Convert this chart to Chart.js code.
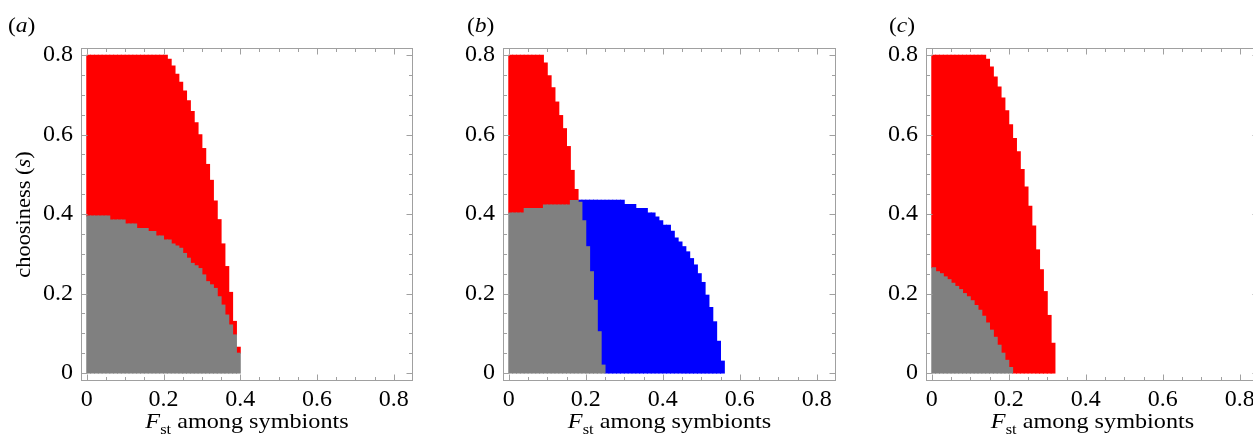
<!DOCTYPE html>
<html>
<head>
<meta charset="utf-8">
<script src="https://cdn.jsdelivr.net/npm/chart.js@4.4.0/dist/chart.umd.min.js"></script>
<style>
html,body{margin:0;padding:0;background:#fff;overflow:hidden;width:1253px;height:436px;position:relative;}
canvas{position:absolute;top:0;}
</style>
</head>
<body>
<canvas id="ca" width="420" height="436" style="left:0px"></canvas>
<canvas id="cb" width="420" height="436" style="left:420px"></canvas>
<canvas id="cc" width="420" height="436" style="left:840px"></canvas>
<script>
// ---- data (column centres of the F_st grid) ----
const colX = [0.005,0.015,0.025,0.035,0.045,0.055,0.065,0.075,0.085,0.095,
  0.105,0.115,0.125,0.135,0.145,0.155,0.165,0.175,0.185,0.195,
  0.205,0.215,0.225,0.235,0.245,0.255,0.265,0.275,0.285,0.295,
  0.305,0.315,0.325,0.335,0.345,0.355,0.365,0.375,0.385,0.395,
  0.405,0.415,0.425,0.435,0.445,0.455,0.465,0.475,0.485,0.495,
  0.505,0.515,0.525,0.535,0.545,0.555];

// panel (a)
const grayA = [0.395,0.395,0.395,0.395,0.395,0.395,0.385,0.385,0.385,0.385,
  0.375,0.375,0.375,0.364,0.364,0.364,0.356,0.356,0.345,0.345,
  0.335,0.335,0.325,0.320,0.314,0.301,0.289,0.276,0.270,0.263,
  0.247,0.230,0.222,0.213,0.192,0.171,0.146,0.121,0.096,0.050];
const redTopA = [0.8,0.8,0.8,0.8,0.8,0.8,0.8,0.8,0.8,0.8,
  0.8,0.8,0.8,0.8,0.8,0.8,0.8,0.8,0.8,0.8,
  0.8,0.79,0.773,0.752,0.732,0.710,0.685,0.658,0.630,0.600,
  0.565,0.525,0.485,0.433,0.386,0.325,0.268,0.203,0.130,0.065];

// panel (b)
const grayB = [0.403,0.403,0.403,0.403,0.414,0.414,0.414,0.414,0.414,0.423,
  0.423,0.423,0.423,0.423,0.423,0.423,0.434,0.434,0.430,0.383,
  0.318,0.255,0.183,0.104,0.020];
const redTopB = [0.8,0.8,0.8,0.8,0.8,0.8,0.8,0.8,0.8,0.78,
  0.748,0.718,0.682,0.648,0.615,0.570,0.510,0.462];
const blueTopB = [null,null,null,null,null,null,null,null,null,null,
  null,null,null,null,null,null,null,null,0.435,0.435,
  0.435,0.435,0.435,0.435,0.435,0.435,0.435,0.435,0.435,0.435,
  0.424,0.424,0.424,0.414,0.414,0.414,0.403,0.403,0.393,0.383,
  0.372,0.372,0.357,0.340,0.330,0.318,0.305,0.288,0.272,0.250,
  0.228,0.196,0.165,0.129,0.080,0.030];

// panel (c)
const grayC = [0.265,0.255,0.250,0.242,0.235,0.226,0.218,0.210,0.200,0.192,
  0.182,0.170,0.158,0.143,0.126,0.108,0.090,0.070,0.050,0.032,0.014];
const redTopC = [0.8,0.8,0.8,0.8,0.8,0.8,0.8,0.8,0.8,0.8,
  0.8,0.8,0.8,0.8,0.79,0.77,0.745,0.72,0.692,0.66,
  0.625,0.59,0.557,0.512,0.468,0.42,0.37,0.31,0.26,0.205,
  0.145,0.075];

// ticks
const majorTicks = [0,0.2,0.4,0.6,0.8];
const minorTicksX = [0,0.05,0.1,0.15,0.2,0.25,0.3,0.35,0.4,0.45,0.5,0.55,0.6,0.65,0.7,0.75,0.8,0.85];
const minorTicksY = [0,0.05,0.1,0.15,0.2,0.25,0.3,0.35,0.4,0.45,0.5,0.55,0.6,0.65,0.7,0.75,0.8];
const panelLetters = ['a','b','c'];

// ---- helpers ----
const SERIF = '"Liberation Serif","Times New Roman",serif';
const RED = '#ff0000', GRAY = '#808080', BLUE = '#0000ff';

function bars(tops, bottoms) {
  const out = [];
  tops.forEach((t, i) => {
    if (t == null) return;
    const b = bottoms && bottoms[i] != null ? bottoms[i] : 0;
    out.push({x: colX[i], y: [b, t]});
  });
  return out;
}
function ds(data, color) {
  return {data, backgroundColor: color, borderWidth: 0, grouped: false,
          barPercentage: 1, categoryPercentage: 1, inflateAmount: 0.5};
}
function rich(ctx, parts, x, y, align, sx) {
  let w = 0;
  parts.forEach(p => { ctx.font = p.font; p.w = ctx.measureText(p.t).width; w += p.w; });
  ctx.save();
  ctx.translate(x, y);
  ctx.scale(sx || 1, 1);
  let cx = align === 'center' ? -w / 2 : 0;
  parts.forEach(p => { ctx.font = p.font; ctx.fillText(p.t, cx, (p.dy || 0)); cx += p.w; });
  ctx.restore();
}

const framePlugin = {
  id: 'frame',
  afterDraw(chart, args, opts) {
    const {ctx, chartArea: a} = chart;
    const xs = chart.scales.x, ys = chart.scales.y;
    ctx.save();
    ctx.strokeStyle = '#a0a0a0';
    ctx.lineWidth = 1;
    const L = Math.round(a.left) + 0.5, R = Math.round(a.right) - 0.5;
    const T = Math.round(a.top) + 0.5, B = Math.round(a.bottom) - 0.5;
    ctx.strokeRect(L, T, R - L, B - T);
    ctx.beginPath();
    minorTicksX.forEach(v => {
      const px = Math.round(xs.getPixelForValue(v)) + 0.5;
      if (px <= L || px >= R) return;
      const len = majorTicks.includes(v) ? 6 : 3.5;
      ctx.moveTo(px, B); ctx.lineTo(px, B - len);
      ctx.moveTo(px, T); ctx.lineTo(px, T + len);
    });
    minorTicksY.forEach(v => {
      const py = Math.round(ys.getPixelForValue(v)) + 0.5;
      if (py <= T || py >= B) return;
      const len = majorTicks.includes(v) ? 6 : 3.5;
      ctx.moveTo(L, py); ctx.lineTo(L + len, py);
      ctx.moveTo(R, py); ctx.lineTo(R - len, py);
    });
    ctx.stroke();

    ctx.fillStyle = '#000';
    ctx.textAlign = 'left';
    ctx.textBaseline = 'alphabetic';
    // panel letter
    rich(ctx, [
      {t: '(', font: `21px ${SERIF}`},
      {t: opts.letter, font: `italic 21px ${SERIF}`},
      {t: ')', font: `21px ${SERIF}`}
    ], opts.labelX, 32, 'left', 1.12);
    // x title
    rich(ctx, [
      {t: 'F', font: `italic 22px ${SERIF}`},
      {t: 'st', font: `15px ${SERIF}`, dy: 6},
      {t: ' among symbionts', font: `22px ${SERIF}`}
    ], (a.left + a.right) / 2, 428, 'center', 1.1);
    // y title
    if (opts.yTitle) {
      ctx.save();
      ctx.translate(29.5, (a.top + a.bottom) / 2);
      ctx.rotate(-Math.PI / 2);
      rich(ctx, [
        {t: 'choosiness (', font: `22px ${SERIF}`},
        {t: 's', font: `italic 22px ${SERIF}`},
        {t: ')', font: `22px ${SERIF}`}
      ], 0, 0, 'center', 1.02);
      ctx.restore();
    }
    ctx.restore();
  }
};

function fmt(v) { return v === 0 ? '0' : v.toFixed(1); }

function makeChart(id, datasets, yWidth, padRight, letter, labelX, yTitle) {
  return new Chart(document.getElementById(id), {
    type: 'bar',
    data: {datasets},
    options: {
      responsive: false,
      animation: false,
      layout: {padding: {left: 0, right: padRight, top: 48, bottom: 0}},
      plugins: {
        legend: {display: false},
        tooltip: {enabled: false},
        frame: {letter, labelX, yTitle}
      },
      scales: {
        x: {
          type: 'linear', min: -0.015, max: 0.85, offset: false,
          grid: {display: false, drawTicks: false}, border: {display: false},
          afterBuildTicks: s => { s.ticks = majorTicks.map(v => ({value: v})); },
          afterFit: s => { s.height = 55; },
          ticks: {autoSkip: false, maxRotation: 0, minRotation: 0, padding: 4, color: '#000',
                  font: {family: SERIF, size: 24}, callback: v => fmt(v)}
        },
        y: {
          type: 'linear', min: -0.02, max: 0.818,
          grid: {display: false, drawTicks: false}, border: {display: false},
          afterBuildTicks: s => { s.ticks = majorTicks.map(v => ({value: v})); },
          afterFit: s => { s.width = yWidth; },
          ticks: {autoSkip: false, padding: 8, color: '#000',
                  font: {family: SERIF, size: 24}, callback: v => fmt(v)}
        }
      }
    },
    plugins: [framePlugin]
  });
}

makeChart('ca', [
  ds(bars(grayA, null), GRAY),
  ds(bars(redTopA, grayA), RED)
], 81, 7, panelLetters[0], 8, true);

makeChart('cb', [
  ds(bars(grayB, null), GRAY),
  ds(bars(redTopB, grayB), RED),
  ds(bars(blueTopB, grayB), BLUE)
], 83, 4, panelLetters[1], 47, false);

makeChart('cc', [
  ds(bars(grayC, null), GRAY),
  ds(bars(redTopC, grayC), RED)
], 86, 1, panelLetters[2], 49, false);
</script>
</body>
</html>
